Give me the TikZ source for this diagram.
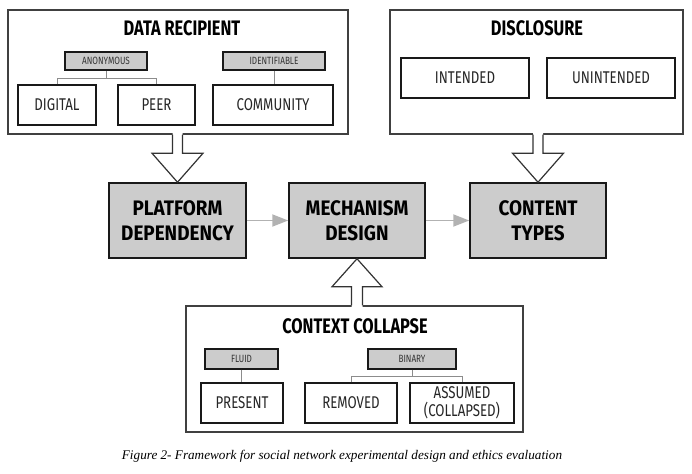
\documentclass[tikz,border=0pt]{standalone}
\usepackage{fontspec}
\setmainfont{Liberation Serif}
\newfontfamily\din[FakeStretch=0.78]{Fira Sans}
\newfontfamily\dinwide[FakeStretch=0.9]{Fira Sans}
\usetikzlibrary{arrows.meta,calc}
\tikzset{
  outer/.style={draw=black!75,line width=1.2pt,fill=white,inner sep=0pt},
  itembox/.style={draw=black!90,line width=1.4pt,fill=white,inner sep=0pt,font=\din\fontsize{17}{19}\selectfont,text=black!85,align=center},
  tagbox/.style={draw=black!90,line width=1.3pt,fill=black!20,inner sep=0pt,font=\din\fontsize{10.5}{12}\selectfont,text=black!80},
  mainbox/.style={draw=black!90,line width=1.5pt,fill=black!20,inner sep=0pt,font=\dinwide\bfseries\fontsize{21}{25}\selectfont,align=center},
  title/.style={font=\din\bfseries\fontsize{21}{24}\selectfont,inner sep=0pt},
  tagline/.style={draw=black!45,line width=0.9pt},
  flow/.style={draw=black!30,line width=1.8pt,-{Triangle[length=16pt,width=12pt]}},
  blockarrow/.style={draw=black!80,line width=1.2pt,line join=miter},
}
\begin{document}
\begin{tikzpicture}[x=1pt,y=-1pt]
\useasboundingbox (0,0) rectangle (692,473);
% outer boxes
\node[outer,minimum width=340pt,minimum height=124pt] (dr) at (178,72) {};
\node[title] (drt) at (182,28) {DATA RECIPIENT};
\node[outer,minimum width=293pt,minimum height=124pt] (dc) at (536.5,72) {};
\node[title] (dct) at (537,28) {DISCLOSURE};
\node[outer,minimum width=337pt,minimum height=126pt] (cc) at (354.5,369) {};
\node[title] (cct) at (355,326) {CONTEXT COLLAPSE};
% data recipient contents
\node[tagbox,minimum width=82pt,minimum height=18pt] (anon) at (106,61) {ANONYMOUS};
\node[tagbox,minimum width=102pt,minimum height=18pt] (ident) at (274,61) {IDENTIFIABLE};
\node[itembox,minimum width=78pt,minimum height=40pt] (digital) at (57,105) {DIGITAL};
\node[itembox,minimum width=77pt,minimum height=40pt] (peer) at (156.5,105) {PEER};
\node[itembox,minimum width=120pt,minimum height=40pt] (comm) at (273,105) {COMMUNITY};
\coordinate (anonj) at ($(anon.south)+(0,8)$);
\draw[tagline] (anon.south) -- (anonj);
\draw[tagline] (digital.north) -- (digital.north |- anonj) -- (peer.north |- anonj) -- (peer.north);
\draw[tagline] (ident.south) -- (ident.south |- comm.north);
% disclosure contents
\node[itembox,minimum width=128pt,minimum height=40pt] (intended) at (465,78) {INTENDED};
\node[itembox,minimum width=128pt,minimum height=40pt] (unintended) at (611,78) {UNINTENDED};
% context collapse contents
\node[tagbox,minimum width=73pt,minimum height=20pt] (fluid) at (241.5,359) {FLUID};
\node[tagbox,minimum width=88pt,minimum height=20pt] (binary) at (412,359) {BINARY};
\node[itembox,minimum width=82pt,minimum height=40pt] (present) at (242,403) {PRESENT};
\node[itembox,minimum width=92pt,minimum height=40pt] (removed) at (351,403) {REMOVED};
\node[itembox,minimum width=104pt,minimum height=40pt,font=\din\fontsize{17}{18}\selectfont] (assumed) at (462,403) {ASSUMED\\(COLLAPSED)};
\coordinate (binj) at ($(binary.south)+(0,7)$);
\draw[tagline] (fluid.south) -- (fluid.south |- present.north);
\draw[tagline] (binary.south) -- (binj);
\draw[tagline] (removed.north) -- (removed.north |- binj) -- (assumed.north |- binj) -- (assumed.north);
% main boxes
\node[mainbox,minimum width=137pt,minimum height=75pt] (plat) at (177.5,220.5) {PLATFORM\\DEPENDENCY};
\node[mainbox,minimum width=136pt,minimum height=75pt] (mech) at (357,220.5) {MECHANISM\\DESIGN};
\node[mainbox,minimum width=136pt,minimum height=75pt] (cont) at (538,220.5) {CONTENT\\TYPES};
\draw[flow] (plat.east) -- (mech.west);
\draw[flow] (mech.east) -- (cont.west);
% block arrows (down)
\foreach \src/\dst in {dr/plat,dc/cont}{
  \coordinate (t) at (\dst.north);
  \coordinate (s) at (\dst.north |- \src.south);
  \fill[white] ($(s)+(-5,-1.5)$) -- ($(t)+(-5,-29)$) -- ($(t)+(-25.5,-29)$) -- (t) -- ($(t)+(25.5,-29)$) -- ($(t)+(5,-29)$) -- ($(s)+(5,-1.5)$) -- cycle;
  \draw[blockarrow] (s) ++(-5,0) -- ($(t)+(-5,-29)$) -- ($(t)+(-25.5,-29)$) -- (t) -- ($(t)+(25.5,-29)$) -- ($(t)+(5,-29)$) -- ($(s)+(5,0)$);
}
% block arrow (up)
\coordinate (t2) at (mech.south);
\coordinate (s2) at (mech.south |- cc.north);
\fill[white] ($(s2)+(-5.5,1.5)$) -- ($(t2)+(-5.5,28)$) -- ($(t2)+(-25,28)$) -- (t2) -- ($(t2)+(25,28)$) -- ($(t2)+(5.5,28)$) -- ($(s2)+(5.5,1.5)$) -- cycle;
\draw[blockarrow] ($(s2)+(-5.5,0)$) -- ($(t2)+(-5.5,28)$) -- ($(t2)+(-25,28)$) -- (t2) -- ($(t2)+(25,28)$) -- ($(t2)+(5.5,28)$) -- ($(s2)+(5.5,0)$);
% caption
\node[font=\itshape\fontsize{13.2}{15}\selectfont,inner sep=0pt] (cap) at (342,456) {Figure 2- Framework for social network experimental design and ethics evaluation};
\end{tikzpicture}
\end{document}
